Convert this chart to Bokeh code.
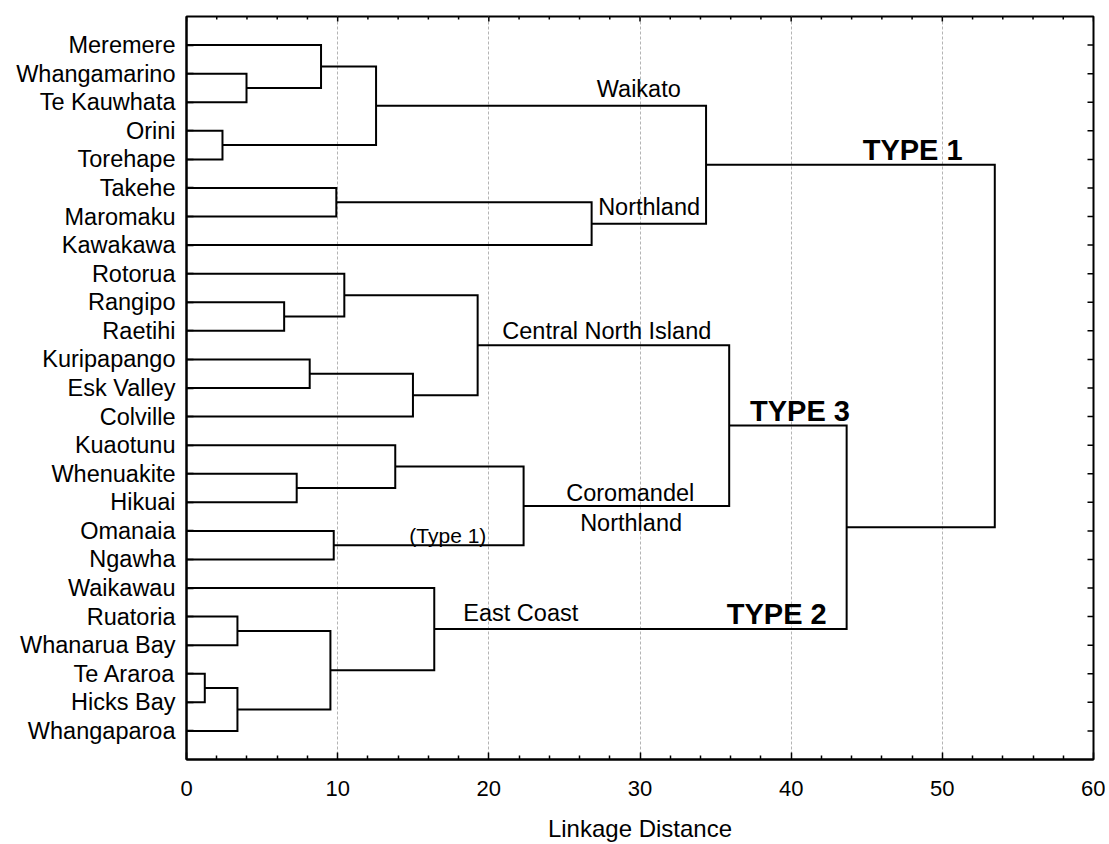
from bokeh.plotting import figure
from bokeh.models import Range1d, LinearAxis, FixedTicker, Label
from bokeh.embed import file_html
from bokeh.resources import INLINE

# ---------------- data ----------------
leaves = ["Meremere", "Whangamarino", "Te Kauwhata", "Orini", "Torehape",
          "Takehe", "Maromaku", "Kawakawa", "Rotorua", "Rangipo", "Raetihi",
          "Kuripapango", "Esk Valley", "Colville", "Kuaotunu", "Whenuakite",
          "Hikuai", "Omanaia", "Ngawha", "Waikawau", "Ruatoria", "Whanarua Bay",
          "Te Araroa", "Hicks Bay", "Whangaparoa"]

# merges: node ids 0..24 are leaves; merge k creates node 25+k
merge_left = [1, 0, 3, 26, 5, 29, 28, 9, 8, 11, 34, 33, 15, 14, 17, 38, 36, 20, 22, 43, 42, 19, 41, 31]
merge_right = [2, 25, 4, 27, 6, 7, 30, 10, 32, 12, 13, 35, 16, 37, 18, 39, 40, 21, 23, 24, 44, 45, 46, 47]
merge_dist = [3.97, 8.9, 2.38, 12.54, 9.91, 26.8, 34.37, 6.46, 10.44, 8.15, 14.98, 19.26,
              7.29, 13.81, 9.74, 22.3, 35.9, 3.37, 1.21, 3.37, 9.52, 16.39, 43.67, 53.47]

x_ticks = [0, 10, 20, 30, 40, 50, 60]
x_minor = [2, 4, 6, 8, 12, 14, 16, 18, 22, 24, 26, 28, 32, 34, 36, 38, 42, 44, 46, 48, 52, 54, 56, 58]
x_title = "Linkage Distance"

FONT = "Liberation Sans"

X0, X1 = 0, 60
Y_TOP, Y_BOT = -1, 25
FW, FH = 907, 743
PX_X = FW / (X1 - X0)
PX_Y = FH / (Y_BOT - Y_TOP)
W, H = 1105, 844

# ---------------- figure ----------------
p = figure(width=W, height=H, output_backend="svg", toolbar_location=None,
           x_range=Range1d(X0, X1), y_range=Range1d(Y_BOT, Y_TOP),
           min_border_left=186, min_border_right=W - 186 - FW, min_border_top=16,
           min_border_bottom=H - 16 - FH,
           x_axis_location=None, y_axis_location=None)
p.outline_line_color = "black"
p.outline_line_width = 2
p.background_fill_color = "white"
p.border_fill_color = "white"

# grid
p.xgrid.ticker = FixedTicker(ticks=x_ticks[1:-1])
p.xgrid.grid_line_color = "#b4b4b4"
p.xgrid.grid_line_dash = "3 2"
p.xgrid.grid_line_width = 1
p.ygrid.visible = False

# bottom axis
xb = LinearAxis(ticker=FixedTicker(ticks=x_ticks, minor_ticks=x_minor))
xb.major_label_text_font = FONT
xb.major_label_text_font_size = "22px"
xb.major_label_text_color = "black"
xb.major_label_standoff = 21
xb.major_tick_in = 7
xb.major_tick_out = 0
xb.minor_tick_in = 4
xb.minor_tick_out = 0
xb.axis_line_width = 2
xb.major_tick_line_width = 1.5
xb.minor_tick_line_width = 1.5
xb.axis_label = x_title
xb.axis_label_text_font = FONT
xb.axis_label_text_font_size = "24px"
xb.axis_label_text_font_style = "normal"
xb.axis_label_text_color = "black"
xb.axis_label_standoff = 16
p.add_layout(xb, "below")

# left axis with leaf names
yl = LinearAxis(ticker=FixedTicker(ticks=list(range(len(leaves)))))
yl.major_label_overrides = {i: name for i, name in enumerate(leaves)}
yl.major_label_text_font = FONT
yl.major_label_text_font_size = "23.5px"
yl.major_label_text_color = "black"
yl.major_label_standoff = 11
yl.major_tick_in = 7
yl.major_tick_out = 0
yl.minor_tick_line_color = None
yl.axis_line_width = 2
yl.major_tick_line_width = 1.5
p.add_layout(yl, "left")

# top ticks (inward, no labels)
p.segment(x0=x_ticks, y0=[Y_TOP] * len(x_ticks), x1=x_ticks,
          y1=[Y_TOP + 5 / PX_Y] * len(x_ticks), line_color="black", line_width=1.5)
p.segment(x0=x_minor, y0=[Y_TOP] * len(x_minor), x1=x_minor,
          y1=[Y_TOP + 3 / PX_Y] * len(x_minor), line_color="black", line_width=1.5)
# right ticks (inward, no labels)
ry = list(range(len(leaves)))
p.segment(x0=[X1] * len(ry), y0=ry, x1=[X1 - 6 / PX_X] * len(ry), y1=ry,
          line_color="black", line_width=1.5)

# ---------------- dendrogram ----------------
node_y = [float(i) for i in range(len(leaves))]
node_x = [0.0] * len(leaves)
xs, ys = [], []
for l, r, d in zip(merge_left, merge_right, merge_dist):
    y1, y2 = node_y[l], node_y[r]
    xs.append([node_x[l], d, d, node_x[r]])
    ys.append([y1, y1, y2, y2])
    node_y.append((y1 + y2) / 2.0)
    node_x.append(d)
p.multi_line(xs, ys, line_color="black", line_width=2, line_join="miter")

# ---------------- annotations (text centres) ----------------
def note(txt, x, y, size="23.5px", bold=False):
    p.add_layout(Label(x=x, y=y, text=txt, text_font=FONT, text_font_size=size,
                       text_font_style="bold" if bold else "normal",
                       text_color="black", text_baseline="middle", text_align="left"))

note("Waikato", 27.14, 1.55)
note("Northland", 27.23, 5.67)
note("TYPE 1", 44.73, 3.68, size="29px", bold=True)
note("Central North Island", 20.89, 10.00)
note("TYPE 3", 37.28, 12.79, size="29px", bold=True)
note("Coromandel", 25.12, 15.66)
note("Northland", 26.04, 16.71)
note("(Type 1)", 14.74, 17.16, size="21px")
note("East Coast", 18.31, 19.87)
note("TYPE 2", 35.74, 19.90, size="29px", bold=True)

open("out.html", "w").write(file_html(p, INLINE))
